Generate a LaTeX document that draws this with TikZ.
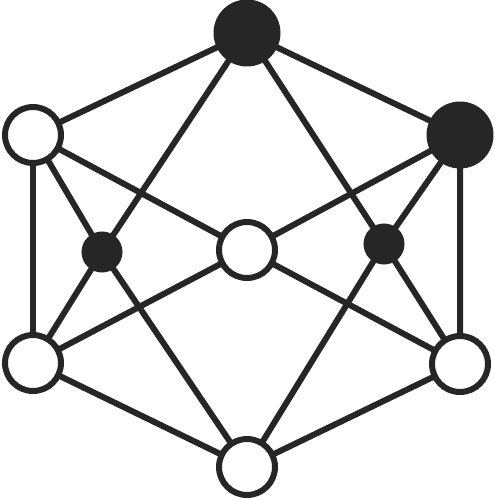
\documentclass[tikz,border=0pt]{standalone}
\usetikzlibrary{backgrounds}
\definecolor{netgray}{RGB}{38,38,38}

\begin{document}
\begin{tikzpicture}[x=0.02cm, y=-0.02cm,
    every node/.style={circle, draw=netgray, line width=0.12cm, inner sep=0pt},
    open/.style={fill=white, minimum size=1.12cm},
    hub/.style={fill=netgray, minimum size=1.22cm},
    knot/.style={fill=netgray, minimum size=0.7cm},
    link/.style={draw=netgray, line width=0.12cm, line join=round}]
    \useasboundingbox (0,0) rectangle (494,500);

    % Outer hexagon of nodes
    \node[hub] (top) at (247,33) {};
    \node[open] (ul) at (33,135) {};
    \node[hub] (ur) at (460,135) {};
    \node[open] (ll) at (33,363) {};
    \node[open] (lr) at (460,364) {};
    \node[open] (bot) at (247,467) {};

    % Inner nodes
    \node[open] (mid) at (247,250) {};
    \node[knot] (lk) at (102,252) {};
    \node[knot] (rk) at (384,244) {};

    % Connectors sit behind the nodes
    \begin{pgfonlayer}{background}
        % Outline
        \draw[link] (top.center) -- (ul.center) -- (ll.center) -- (bot.center)
              -- (lr.center) -- (ur.center) -- (top.center);

        % Cross through the middle node
        \draw[link] (ul.center) -- (mid.center) -- (lr.center);
        \draw[link] (ur.center) -- (mid.center) -- (ll.center);

        % Left small node
        \draw[link] (top.center) -- (lk.center) -- (ll.center);
        \draw[link] (ul.center) -- (lk.center) -- (bot.center);

        % Right small node
        \draw[link] (top.center) -- (rk.center) -- (lr.center);
        \draw[link] (ur.center) -- (rk.center) -- (bot.center);
    \end{pgfonlayer}
\end{tikzpicture}
\end{document}
